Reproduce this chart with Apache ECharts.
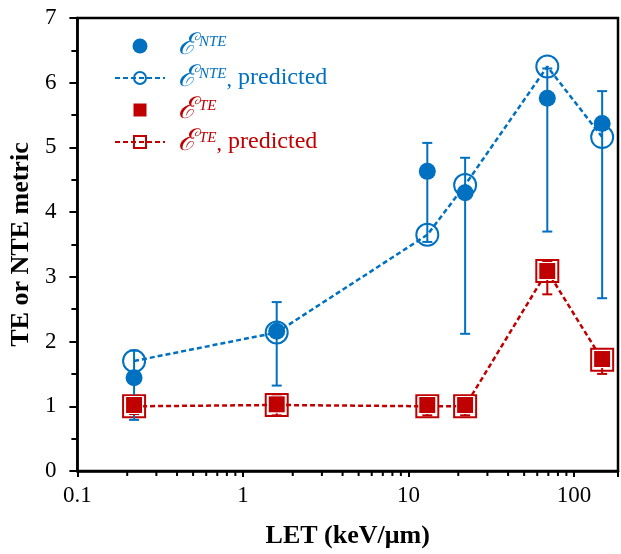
<!DOCTYPE html>
<html>
<head>
<meta charset="utf-8">
<script src="https://cdn.jsdelivr.net/npm/echarts@6/dist/echarts.min.js"></script>
<style>html,body{margin:0;padding:0;background:#fff;}#c{width:621px;height:554px;}</style>
</head>
<body>
<div id="c"></div>
<script>
// ---- data ----
const LET      = [0.22, 1.6, 13, 22, 69, 148];
const nteObs   = [1.44, 2.16, 4.63, 4.30, 5.76, 5.37];
const nteLow   = [0.79, 1.32, 3.54, 2.12, 3.70, 2.67];
const nteHigh  = [1.86, 2.61, 5.07, 4.84, 6.22, 5.87];
const ntePred  = [1.70, 2.14, 3.65, 4.42, 6.25, 5.16];
const teObs    = [1.02, 1.03, 1.02, 1.02, 3.09, 1.73];
const teLow    = [0.88, 0.86, 0.86, 0.86, 2.73, 1.50];
const teHigh   = [1.16, 1.16, 1.16, 1.16, 3.24, 1.84];
const tePred   = [1.00, 1.02, 1.00, 1.00, 3.09, 1.72];
const xMinorTicks = [0.2,0.3,0.4,0.5,0.6,0.7,0.8,0.9, 2,3,4,5,6,7,8,9, 20,30,40,50,60,70,80,90];
const seriesNames = ['NTE', 'NTE predicted', 'TE', 'TE predicted'];

const BLUE = '#0070C0', RED = '#C00000';
const FONT = "'Liberation Serif', 'Times New Roman', serif";

const zip2 = (xs, ys) => xs.map((x, i) => [x, ys[i]]);
const zip3 = (xs, a, b) => xs.map((x, i) => [x, a[i], b[i]]);

function errRender(color) {
  return function (params, api) {
    const x = api.value(0);
    const lo = api.coord([x, api.value(1)]);
    const hi = api.coord([x, api.value(2)]);
    const hw = 5;
    const st = { stroke: color, lineWidth: 2 };
    return { type: 'group', children: [
      { type: 'line', shape: { x1: lo[0], y1: lo[1], x2: hi[0], y2: hi[1] }, style: st },
      { type: 'line', shape: { x1: lo[0]-hw, y1: lo[1], x2: lo[0]+hw, y2: lo[1] }, style: st },
      { type: 'line', shape: { x1: hi[0]-hw, y1: hi[1], x2: hi[0]+hw, y2: hi[1] }, style: st }
    ]};
  };
}

function richFor(color) {
  return {
    e: { fontFamily: FONT, fontStyle: 'italic', fontSize: 30, color: color, lineHeight: 26, padding: [0,0,0,8] },
    s: { fontFamily: FONT, fontStyle: 'italic', fontSize: 15, color: color, lineHeight: 15, verticalAlign: 'top', padding: [2,0,0,3] },
    c: { fontFamily: FONT, fontSize: 22, color: color, lineHeight: 20, verticalAlign: 'bottom', padding: [0,0,0,0] },
    p: { fontFamily: FONT, fontSize: 24, color: color, lineHeight: 26 }
  };
}
const richB = richFor(BLUE), richR = richFor(RED);
const rich = {
  eb: richB.e, sb: richB.s, cb: richB.c, pb: richB.p,
  er: richR.e, sr: richR.s, cr: richR.c, pr: richR.p
};
const legendText = {
  'NTE': '{eb|ℰ}{sb|NTE}',
  'NTE predicted': '{eb|ℰ}{sb|NTE}{cb|,} {pb|predicted}',
  'TE': '{er|ℰ}{sr|TE}',
  'TE predicted': '{er|ℰ}{sr|TE}{cr|,} {pr|predicted}'
};
const legendIcons = { 'TE': 'path://M0,0L10,0L10,10L0,10Z' };

const chart = echarts.init(document.getElementById('c'), null, { renderer: 'canvas' });
chart.setOption({
  animation: false,
  backgroundColor: '#fff',
  grid: { left: 77, right: -4, top: 18, bottom: 81.5, show: true, borderColor: '#000', borderWidth: 2.5, backgroundColor: 'transparent' },
  legend: {
    left: 109, top: 26, orient: 'vertical',
    itemWidth: 50, itemHeight: 15, itemGap: 2,
    symbolKeepAspect: true,
    data: seriesNames.map(n => legendIcons[n] ? { name: n, icon: legendIcons[n] } : { name: n }),
    formatter: n => legendText[n],
    textStyle: { rich: rich, fontFamily: FONT, fontSize: 24 },
    selectedMode: false
  },
  xAxis: {
    type: 'log', logBase: 10, min: 0.1, max: 184.5,
    name: 'LET (keV/μm)', nameLocation: 'middle', nameGap: 52,
    nameTextStyle: { fontFamily: FONT, fontWeight: 'bold', fontSize: 26, color: '#000' },
    axisLine: { lineStyle: { color: '#000', width: 2.5 } },
    axisTick: { show: true, inside: false, length: 6, lineStyle: { color: '#000', width: 2 } },
    axisLabel: {
      margin: 13, color: '#000', fontFamily: FONT, fontSize: 23,
      formatter: v => {
        const l = Math.log10(v);
        if (Math.abs(l - Math.round(l)) > 1e-6) return '';
        return String(+v.toPrecision(3));
      }
    },
    splitLine: { show: false }
  },
  yAxis: {
    type: 'value', min: 0, max: 7, interval: 1,
    name: 'TE or NTE metric', nameLocation: 'middle', nameGap: 42,
    nameTextStyle: { fontFamily: FONT, fontWeight: 'bold', fontSize: 26, color: '#000' },
    axisLine: { show: true, lineStyle: { color: '#000', width: 2.5 } },
    axisTick: { show: true, inside: false, length: 8, lineStyle: { color: '#000', width: 2 } },
    minorTick: { show: true, splitNumber: 2, length: 6, lineStyle: { color: '#000', width: 2 } },
    axisLabel: { margin: 21, color: '#000', fontFamily: FONT, fontSize: 23 },
    splitLine: { show: false }, minorSplitLine: { show: false }
  },
  series: [
    {
      name: 'xMinorTicks', type: 'custom', silent: true, clip: false, z: 1,
      data: xMinorTicks.map(v => [v]),
      encode: { x: 0 },
      renderItem: (params, api) => {
        const p = api.coord([api.value(0), 0]);
        return { type: 'line', shape: { x1: p[0], y1: p[1], x2: p[0], y2: p[1] + 5 }, style: { stroke: '#000', lineWidth: 2 } };
      }
    },
    {
      name: 'NTE predicted', type: 'line', z: 3,
      data: zip2(LET, ntePred),
      symbol: 'circle', symbolSize: 22,
      itemStyle: { color: 'rgba(255,255,255,0)', borderColor: BLUE, borderWidth: 2 },
      lineStyle: { color: BLUE, width: 2.5, type: [5, 3] }
    },
    {
      name: 'TE predicted', type: 'line', z: 3,
      data: zip2(LET, tePred),
      symbol: 'rect', symbolSize: 22,
      itemStyle: { color: 'rgba(255,255,255,0)', borderColor: RED, borderWidth: 2 },
      lineStyle: { color: RED, width: 2.5, type: [5, 3] }
    },
    {
      name: 'NTE err', type: 'custom', z: 4, silent: true,
      data: zip3(LET, nteLow, nteHigh), encode: { x: 0, y: [1, 2] },
      renderItem: errRender(BLUE)
    },
    {
      name: 'TE err', type: 'custom', z: 4, silent: true,
      data: zip3(LET, teLow, teHigh), encode: { x: 0, y: [1, 2] },
      renderItem: errRender(RED)
    },
    {
      name: 'NTE', type: 'scatter', z: 5,
      data: zip2(LET, nteObs),
      symbol: 'circle', symbolSize: 17,
      itemStyle: { color: BLUE, opacity: 1 }
    },
    {
      name: 'TE', type: 'scatter', z: 5,
      data: zip2(LET, teObs),
      symbol: 'rect', symbolSize: 17,
      itemStyle: { color: RED, borderColor: '#fff', borderWidth: 1, opacity: 1 }
    }
  ]
});
</script>
</body>
</html>
